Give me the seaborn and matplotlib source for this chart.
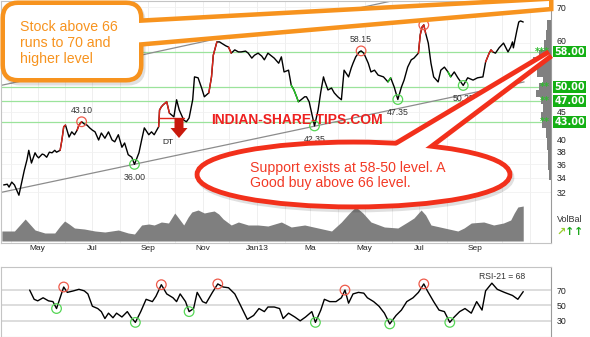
import numpy as np
import pandas as pd
import matplotlib
matplotlib.use("Agg")
import matplotlib.pyplot as plt
import matplotlib.dates as mdates
import matplotlib.transforms as mtransforms
from matplotlib.ticker import NullLocator, FixedLocator, FixedFormatter
from matplotlib.patches import Ellipse, FancyBboxPatch, Polygon, FancyArrow
import seaborn as sns

# ---------------- data ----------------
START = "2012-03-22"

price_days = [2, 6, 8, 11, 14, 19, 22, 25, 28, 30, 33, 37, 39, 41, 45, 47, 50, 53, 56, 59,
              61, 65, 67, 69, 71, 75, 78, 81, 84, 86, 89, 92, 95, 98, 101, 104, 108, 111, 115, 119,
              123, 126, 130, 134, 137, 141, 145, 148, 153, 156, 159, 164, 167, 170, 175, 176, 178, 180, 184, 187,
              192, 195, 198, 203, 206, 209, 213, 215, 219, 223, 226, 231, 234, 236, 240, 243, 245, 250, 253, 256,
              260, 264, 267, 272, 275, 279, 282, 286, 290, 293, 297, 301, 304, 309, 312, 315, 320, 323, 326, 329,
              331, 334, 338, 340, 343, 345, 349, 353, 356, 359, 360, 364, 368, 371, 375, 379, 382, 387, 390, 392,
              395, 399, 401, 404, 409, 412, 416, 420, 426, 431, 434, 438, 442, 446, 449, 453, 457, 460, 465, 467,
              469, 471, 473, 476, 479, 482, 487, 490, 494, 498, 501, 505, 509, 515, 520, 526, 531, 537, 540, 544,
              546, 548, 551, 555, 560, 565, 568, 570, 571, 575, 577, 579, 582]
price_close = [33.0, 33.1, 32.7, 33.4, 33.0, 31.6, 33.3, 35.1, 36.7, 38.2, 36.2, 37.8, 37.3, 37.0, 37.6, 37.5, 37.1, 37.9, 37.8, 38.2,
               37.9, 38.2, 39.9, 42.2, 42.5, 40.4, 41.3, 40.8, 41.6, 42.5, 43.1, 42.7, 42.5, 42.0, 41.6, 41.3, 39.9, 41.1, 40.2, 41.3,
               39.9, 39.6, 40.8, 38.7, 39.4, 37.5, 37.1, 36.0, 37.8, 39.9, 42.0, 40.8, 41.3, 40.8, 42.2, 45.3, 45.9, 46.3, 46.9, 44.7,
               44.0, 47.3, 45.3, 43.4, 43.1, 43.8, 47.3, 52.1, 51.9, 49.7, 47.9, 48.7, 52.1, 57.1, 60.4, 60.4, 60.1, 59.4, 59.1, 57.6,
               58.4, 57.9, 57.9, 58.1, 57.6, 56.4, 57.1, 57.6, 56.9, 56.0, 57.6, 56.9, 56.4, 55.2, 56.7, 53.2, 53.6, 50.3, 49.3, 47.9,
               46.9, 47.3, 47.9, 47.9, 46.9, 45.3, 42.35, 45.3, 48.9, 52.1, 51.4, 49.3, 49.7, 48.7, 47.9, 47.3, 53.6, 52.1, 54.1, 55.2,
               56.7, 57.9, 58.15, 57.6, 55.2, 53.2, 53.6, 52.5, 52.1, 51.0, 51.9, 49.9, 47.35, 49.9, 51.4, 54.3, 56.0, 56.4, 57.6, 62.2,
               64.3, 64.9, 62.7, 60.1, 55.2, 52.1, 51.0, 53.6, 54.3, 53.2, 52.1, 53.2, 51.9, 50.25, 51.9, 51.4, 51.9, 52.1, 55.5, 57.6,
               58.4, 57.9, 57.6, 58.9, 60.1, 57.9, 59.1, 60.4, 58.9, 63.5, 65.7, 66.0, 65.7]

red_spans = [(65, 71), (84, 89), (175, 187), (231, 240), (253, 256), (465, 473), (540, 548)]
green_spans = [(323, 331), (428, 434), (498, 501)]

pivot_days = [89, 148, 349, 401, 442, 471, 515]
pivot_prices = [43.10, 36.00, 42.35, 58.15, 47.35, 64.90, 50.25]
pivot_kind = ["high", "low", "low", "high", "low", "high", "low"]

dt_level = 43.8
dt_days = [175, 203]

support_levels = [58.0, 50.0, 47.0, 43.0]
support_stars = [3, 2, 2, 2]

lower_trend_days = [0, 583]
lower_trend_prices = [32.0, 51.0]
upper_trend_days = [0, 440]
upper_trend_prices = [50.3, 72.1]

vol_days = [0, 14, 21, 26, 31, 37, 48, 59, 65, 70, 75, 81, 92, 104, 115, 130, 141, 148, 156, 164, 170, 178, 186, 193,
            198, 203, 208, 212, 219, 226, 231, 237, 242, 247, 256, 264, 275, 286, 297, 312, 323, 338, 353, 368, 379, 384, 388, 395, 399, 403,
            412, 427, 442, 453, 460, 468, 473, 479, 494, 509, 516, 524, 538, 549, 560, 568, 572, 576, 582]
vol_values = [10, 10, 17, 22, 17, 11, 8, 8, 15, 20, 17, 13, 12, 10, 9, 11, 8, 7, 16, 17, 16, 19, 18, 28,
              22, 16, 24, 29, 31, 28, 29, 30, 27, 22, 16, 19, 16, 16, 15, 19, 14, 16, 13, 10, 19, 24, 28, 34, 31, 28,
              19, 14, 13, 19, 23, 31, 26, 16, 13, 10, 13, 18, 19, 16, 18, 21, 28, 34, 35]

vbp_edges = [33.7, 35.1, 38.2, 40.2, 42.0, 43.4, 45.0, 46.5, 47.9, 49.3, 50.7, 52.1, 53.6, 55.2, 56.7, 58.4, 60.9, 63.5, 66.2]
vbp_volume = [2, 3, 4, 5, 9, 10, 8, 10, 15, 12, 8, 14, 22, 18, 12, 7, 5, 4]

rsi_days = [31, 36, 40, 46, 52, 57, 61, 65, 69, 73, 80, 86, 92, 96, 101, 107, 111, 115, 119, 124,
            128, 134, 140, 144, 149, 155, 161, 168, 172, 178, 184, 191, 195, 199, 205, 209, 214, 218, 224, 228,
            235, 241, 247, 253, 260, 266, 274, 281, 287, 293, 297, 304, 310, 314, 320, 327, 333, 339, 346, 350,
            356, 360, 366, 373, 379, 383, 387, 392, 398, 404, 408, 415, 421, 427, 433, 440, 446, 452, 459, 465,
            471, 475, 482, 488, 494, 500, 505, 511, 517, 524, 530, 536, 540, 547, 553, 561, 570, 576, 582]
rsi_values = [70, 58, 56, 60, 56, 55, 46, 60, 74, 67, 69, 71, 69, 65, 49, 46, 42, 33, 40, 34,
              40, 35, 42, 35, 28, 42, 58, 55, 62, 77, 65, 60, 55, 65, 55, 42, 46, 67, 55, 53,
              67, 78, 74, 73, 65, 51, 32, 37, 46, 42, 48, 48, 46, 33, 40, 35, 30, 35, 42, 28,
              44, 58, 55, 55, 60, 70, 53, 65, 67, 66, 60, 55, 49, 40, 26, 37, 44, 55, 60, 67,
              78, 69, 55, 44, 42, 28, 35, 42, 46, 40, 55, 44, 69, 79, 71, 67, 63, 58, 68]
rsi_high_days = [69, 178, 241, 383, 471]
rsi_high_vals = [74, 77, 78, 70, 78]
rsi_low_days = [61, 149, 209, 350, 433, 500]
rsi_low_vals = [46, 28, 42, 28, 26, 28]
rsi_last = 68

tick_dates = ["2012-05-01", "2012-07-01", "2012-09-01", "2012-11-01", "2013-01-01",
              "2013-03-01", "2013-05-01", "2013-07-01", "2013-09-01"]
tick_labels = ["May", "Jul", "Sep", "Nov", "Jan13", "Ma", "May", "Jul", "Sep"]
price_ticks = [32, 34, 36, 38, 40, 45, 60, 70]
rsi_ticks = [30, 50, 70]

# ---------------- helpers ----------------
base = pd.Timestamp(START)
def to_dates(days):
    return base + pd.to_timedelta(days, unit="D")

df_price = pd.DataFrame({"day": price_days, "date": to_dates(price_days), "close": price_close})
df_rsi = pd.DataFrame({"date": to_dates(rsi_days), "rsi": rsi_values})
vol_dates = to_dates(vol_days)

sns.set_style("white")
plt.rcParams["font.family"] = ["Liberation Sans", "DejaVu Sans"]

W, H = 590, 337
fig = plt.figure(figsize=(W / 100, H / 100), dpi=100)
def pbox(l, t, r, b):
    return [l / W, 1 - b / H, (r - l) / W, (b - t) / H]

RED = "#e1261a"
SPINE = "#c4c4c4"
XLIM = (base - pd.Timedelta(days=1), base + pd.Timedelta(days=613))
PLIM = (25.82, 71.8)

# ---------------- main price panel ----------------
ax = fig.add_axes(pbox(1, 1, 551, 243))
axv = ax.twinx()          # volume area (twinx resets tick side, so configure ax afterwards)
axv.fill_between(vol_dates, vol_values, 0, color="#7f7f7f", lw=0)
axv.set_ylim(-2, 240)
axv.set_yticks([])
for s in axv.spines.values():
    s.set_visible(False)

ax.set_yscale("log")
ax.set_ylim(*PLIM)
ax.set_xlim(*XLIM)
axv.set_xlim(*XLIM)
ax.yaxis.set_major_locator(FixedLocator(price_ticks))
ax.yaxis.set_major_formatter(FixedFormatter([str(v) for v in price_ticks]))
ax.yaxis.set_minor_locator(NullLocator())
ax.set_xticks(pd.to_datetime(tick_dates))
ax.set_xticklabels(tick_labels)
ax.xaxis.set_minor_locator(mdates.MonthLocator())
ax.tick_params(axis="x", which="both", length=0, labelsize=6, pad=1.5, colors="#222222")
ax.tick_params(axis="y", which="both", length=0, labelsize=6.3, pad=4, colors="#222222",
               left=False, labelleft=False, right=True, labelright=True)
ax.grid(True, axis="x", which="both", color="#ececec", lw=0.6)
ax.grid(True, axis="y", which="major", color="#f1f1f1", lw=0.6)
for s in ax.spines.values():
    s.set_color(SPINE)
    s.set_linewidth(0.8)
ax.spines["right"].set_color("#9a9a9a")
# nudge the "60" tick label up a little so it clears the 58.00 marker box
for lbl in ax.get_yticklabels():
    if lbl.get_text() == "60":
        lbl.set_transform(lbl.get_transform() + mtransforms.ScaledTranslation(0, 2 / 72, fig.dpi_scale_trans))

# support lines
for lvl in support_levels:
    ax.axhline(lvl, color="#9be39b", lw=0.9, zorder=1)

# trend lines
ax.plot(to_dates(lower_trend_days), lower_trend_prices, color="#8c8c8c", lw=0.9, zorder=1)
ax.plot(to_dates(upper_trend_days), upper_trend_prices, color="#8c8c8c", lw=0.9, zorder=1)

# price line
sns.lineplot(data=df_price, x="date", y="close", ax=ax, color="black", lw=1.0, zorder=3)
for a, b in red_spans:
    sub = df_price[(df_price.day >= a) & (df_price.day <= b)]
    sns.lineplot(data=sub, x="date", y="close", ax=ax, color=RED, lw=1.0, zorder=4)
for a, b in green_spans:
    sub = df_price[(df_price.day >= a) & (df_price.day <= b)]
    sns.lineplot(data=sub, x="date", y="close", ax=ax, color="#22cc22", lw=1.0, zorder=4)
ax.set_xlabel("")
ax.set_ylabel("")

# DT level
ax.plot(to_dates(dt_days), [dt_level, dt_level], color=RED, lw=1.0, zorder=4)

# pivots
for d, p, k in zip(pivot_days, pivot_prices, pivot_kind):
    col = "#ee5a4a" if k == "high" else "#55d655"
    ax.scatter([to_dates([d])[0]], [p], s=48, facecolors="none", edgecolors=col, linewidths=0.9, zorder=5)
    off = 8 if k == "high" else -9.5
    ax.annotate(f"{p:.2f}", (to_dates([d])[0], p), xytext=(0, off), textcoords="offset points",
                ha="center", va="center", fontsize=6.3, color="#333333", zorder=5)

# volume-by-price histogram
axh = fig.add_axes(pbox(481, 1, 551, 243))
axh.set_yscale("log")
axh.set_ylim(*PLIM)
axh.set_xlim(70, 0)
axh.barh(vbp_edges[:-1], vbp_volume, height=np.diff(vbp_edges), align="edge", color="#808080", lw=0)
axh.set_xticks([])
axh.set_yticks([])
axh.yaxis.set_minor_locator(NullLocator())
axh.axis("off")
axh.patch.set_alpha(0)
for lvl, n in zip(support_levels, support_stars):
    axh.text(0.8, lvl, "*" * n, ha="right", va="center", fontsize=7, fontweight="bold",
             color="#2fbb2f", family="DejaVu Sans")

trans = mtransforms.blended_transform_factory(ax.transAxes, ax.transData)
for lvl in support_levels:
    ax.text(1.006, lvl, f"{lvl:.2f}", transform=trans, ha="left", va="center", fontsize=6.9,
            fontweight="bold", color="white", family="DejaVu Sans", zorder=8, clip_on=False,
            bbox=dict(boxstyle="square,pad=0.1", fc="#14b014", ec="none"))

# ---------------- RSI panel ----------------
rx = fig.add_axes(pbox(1, 267, 551, 337))
rx.set_xlim(*XLIM)
rx.set_ylim(9, 100)
for lvl in rsi_ticks:
    rx.axhline(lvl, color="#dadada", lw=1.3, zorder=0)
sns.lineplot(data=df_rsi, x="date", y="rsi", ax=rx, color="black", lw=1.0)
rx.scatter(to_dates(rsi_high_days), rsi_high_vals, s=48, facecolors="none", edgecolors="#ee5a4a", linewidths=0.9, zorder=5)
rx.scatter(to_dates(rsi_low_days), rsi_low_vals, s=48, facecolors="none", edgecolors="#55d655", linewidths=0.9, zorder=5)
rx.set_xticks([])
rx.set_yticks(rsi_ticks)
rx.tick_params(axis="y", length=0, labelsize=6.3, pad=4, colors="#222222",
               left=False, labelleft=False, right=True, labelright=True)
rx.set_xlabel("")
rx.set_ylabel("")
for s in rx.spines.values():
    s.set_color(SPINE)
    s.set_linewidth(0.8)
rx.spines["right"].set_color("#9a9a9a")
rx.text(0.953, 0.87, f"RSI-21 = {rsi_last}", transform=rx.transAxes, ha="right", va="center",
        fontsize=6.2, color="#333333")

# ---------------- overlay annotations (pixel space) ----------------
ov = fig.add_axes([0, 0, 1, 1])
ov.set_xlim(0, W)
ov.set_ylim(H, 0)
ov.axis("off")
ov.patch.set_alpha(0)

fig.text(557 / W, 1 - 219 / H, "VolBal", fontsize=6.5, color="#333333", va="center")
fig.text(556 / W, 1 - 232 / H, "\u2197", fontsize=8, fontweight="bold", color="#9acd32", va="center", family="DejaVu Sans")
fig.text(565 / W, 1 - 232 / H, "\u2191", fontsize=8, fontweight="bold", color="#1fa81f", va="center", family="DejaVu Sans")
fig.text(574 / W, 1 - 232 / H, "\u2191", fontsize=8, fontweight="bold", color="#1fa81f", va="center", family="DejaVu Sans")

ov.text(296.5, 120, "INDIAN-SHARE-TIPS.COM", ha="center", va="center", fontsize=10,
        fontweight="bold", color="#ee2020")
ov.text(168, 142.5, "DT", ha="center", va="center", fontsize=6, color="#222222")
ov.add_patch(FancyArrow(179, 118, 0, 20, width=9, head_width=17, head_length=10,
                        length_includes_head=True, color="#c8190c", lw=0))

ORANGE = "#f7931e"
LW_O = 6.5
# orange callout: thick outlines first, white fills on top -> merged outline
box_kw = dict(boxstyle="round,pad=0,rounding_size=13")
wedge_o = [(120, 24), (549, 1), (549, 7), (120, 44)]
ov.add_patch(FancyBboxPatch((7, 8), 134, 73, fc="none", ec="#000000", lw=LW_O, alpha=0.12, **box_kw))
ov.add_patch(Polygon(wedge_o, closed=True, fc="none", ec=ORANGE, lw=LW_O, joinstyle="miter"))
ov.add_patch(FancyBboxPatch((5, 5), 134, 73, fc="none", ec=ORANGE, lw=LW_O, **box_kw))
ov.add_patch(Polygon(wedge_o, closed=True, fc="white", ec="none", zorder=3))
ov.add_patch(FancyBboxPatch((5, 5), 134, 73, fc="white", ec="none", zorder=3, **box_kw))
ov.text(20, 43, "Stock above 66\nruns to 70 and\nhigher level", ha="left", va="center",
        fontsize=10.2, color=ORANGE, linespacing=1.15, zorder=4)

# red callout
CRED = "#f2301b"
LW_R = 7.0
wedge_r = [(386, 152), (550, 54), (420, 152)]
ov.add_patch(Ellipse((355.5, 177.5), 308, 60, fc="none", ec="#000000", lw=LW_R, alpha=0.12, zorder=4))
ov.add_patch(Polygon(wedge_r, closed=True, fc="none", ec=CRED, lw=LW_R, joinstyle="miter", zorder=4))
ov.add_patch(Ellipse((353.5, 174.5), 308, 60, fc="none", ec=CRED, lw=LW_R, zorder=4))
ov.add_patch(Polygon(wedge_r, closed=True, fc="white", ec="none", zorder=5))
ov.add_patch(Ellipse((353.5, 174.5), 308, 60, fc="white", ec="none", zorder=5))
ov.text(250, 175.5, "Support exists at 58-50 level. A\nGood buy above 66 level.", ha="left", va="center",
        fontsize=10.2, color="#f23a26", linespacing=1.05, zorder=6)

fig.savefig("out.png", dpi=100)
